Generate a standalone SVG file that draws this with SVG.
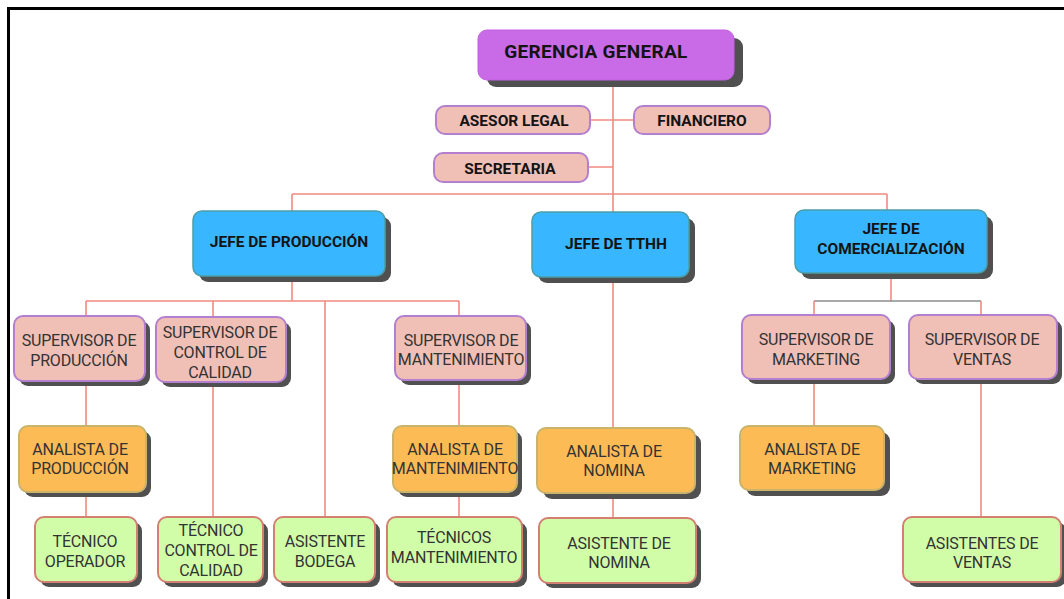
<svg xmlns="http://www.w3.org/2000/svg" width="1064" height="599" viewBox="0 0 1064 599">
<style>
.sh{fill:#505050}
.purple{fill:#c96ae6;stroke:#c060e0;stroke-width:1}
.blue{fill:#38b6ff;stroke:#4b9ea6;stroke-width:1.5}
.pink{fill:#f0bfb6;stroke:#b47fcf;stroke-width:2}
.orange{fill:#fdbb55;stroke:#c9b46c;stroke-width:2}
.green{fill:#d1fda9;stroke:#d37f72;stroke-width:2}
.b{font-family:Roboto,"Liberation Sans",sans-serif;font-weight:bold;fill:#141414;text-anchor:middle}
.r{font-family:Roboto,"Liberation Sans",sans-serif;font-size:16px;letter-spacing:-0.2px;fill:#333;text-anchor:middle}
.ln{stroke:#f08a80;stroke-width:1.6;fill:none}
.gr{stroke:#8c8c8c;stroke-width:1.6;fill:none}
</style>
<rect width="1064" height="599" fill="#fff"/>
<path d="M8.5 599 V8.5 H1064" stroke="#000" stroke-width="3" fill="none"/>
<g id="connectors">
<path class="ln" d="M613 80 V212 M590 120 H634 M588 167 H613 M292 194 H887 M292 194 V211 M887 194 V210"/>
<path class="ln" d="M292 276 V301 M86 301 H459 M86 301 V316 M213 301 V317 M325 301 V517 M459 301 V316"/>
<path class="ln" d="M86 380 V426 M86 492 V517 M213 382 V517 M459 380 V426 M459 492 V517"/>
<path class="ln" d="M613 277 V428 M613 493 V518"/>
<path class="ln" d="M891 273 V301"/>
<path class="gr" d="M814 301 H981"/>
<path class="ln" d="M814 301 V315 M981 301 V315 M814 379 V426 M981 379 V517"/>
</g>
<g id="gerencia">
<rect class="sh" x="487" y="38" width="256" height="49" rx="9"/>
<rect class="purple" x="478" y="30" width="256" height="50" rx="9"/>
<text class="b" x="596" y="58" font-size="19" letter-spacing="0.3">GERENCIA GENERAL</text>
</g>
<g id="asesor">
<rect class="pink" x="436" y="106" width="154" height="28" rx="9"/>
<text class="b" x="514" y="126" font-size="15.5">ASESOR LEGAL</text>
</g>
<g id="financiero">
<rect class="pink" x="634" y="106" width="136" height="28" rx="9"/>
<text class="b" x="702" y="126" font-size="15.5">FINANCIERO</text>
</g>
<g id="secretaria">
<rect class="pink" x="434" y="153" width="154" height="29" rx="9"/>
<text class="b" x="510" y="174" font-size="15.5">SECRETARIA</text>
</g>
<g id="jefe-produccion">
<rect class="sh" x="199" y="217" width="192" height="65" rx="9"/>
<rect class="blue" x="193" y="211" width="192" height="65" rx="9"/>
<text class="b" x="289" y="247" font-size="15.5">JEFE DE PRODUCCIÓN</text>
</g>
<g id="jefe-tthh">
<rect class="sh" x="538" y="218" width="157" height="65" rx="9"/>
<rect class="blue" x="532" y="212" width="157" height="65" rx="9"/>
<text class="b" x="616" y="249" font-size="15.5">JEFE DE TTHH</text>
</g>
<g id="jefe-comercializacion">
<rect class="sh" x="801" y="216" width="192" height="63" rx="9"/>
<rect class="blue" x="795" y="210" width="192" height="63" rx="9"/>
<text class="b" x="891" y="234" font-size="15.5">JEFE DE</text>
<text class="b" x="891" y="254" font-size="15.5">COMERCIALIZACIÓN</text>
</g>
<g id="sup-produccion">
<rect class="sh" x="19" y="321" width="131" height="65" rx="9"/>
<rect class="pink" x="14" y="316" width="131" height="65" rx="9"/>
<text class="r" x="79" y="346">SUPERVISOR DE</text>
<text class="r" x="79" y="366">PRODUCCIÓN</text>
</g>
<g id="sup-calidad">
<rect class="sh" x="161" y="322" width="130" height="65" rx="9"/>
<rect class="pink" x="156" y="317" width="130" height="65" rx="9"/>
<text class="r" x="220" y="338">SUPERVISOR DE</text>
<text class="r" x="220" y="358">CONTROL DE</text>
<text class="r" x="220" y="378">CALIDAD</text>
</g>
<g id="sup-mantenimiento">
<rect class="sh" x="400" y="321" width="131" height="64" rx="9"/>
<rect class="pink" x="395" y="316" width="131" height="64" rx="9"/>
<text class="r" x="461" y="346">SUPERVISOR DE</text>
<text class="r" x="461" y="365">MANTENIMIENTO</text>
</g>
<g id="sup-marketing">
<rect class="sh" x="747" y="320" width="148" height="64" rx="9"/>
<rect class="pink" x="742" y="315" width="148" height="64" rx="9"/>
<text class="r" x="816" y="345">SUPERVISOR DE</text>
<text class="r" x="816" y="365">MARKETING</text>
</g>
<g id="sup-ventas">
<rect class="sh" x="914" y="320" width="148" height="64" rx="9"/>
<rect class="pink" x="909" y="315" width="148" height="64" rx="9"/>
<text class="r" x="982" y="345">SUPERVISOR DE</text>
<text class="r" x="982" y="365">VENTAS</text>
</g>
<g id="analista-produccion">
<rect class="sh" x="24" y="431" width="127" height="66" rx="9"/>
<rect class="orange" x="19" y="426" width="127" height="66" rx="9"/>
<text class="r" x="80" y="455">ANALISTA DE</text>
<text class="r" x="80" y="474">PRODUCCIÓN</text>
</g>
<g id="analista-mantenimiento">
<rect class="sh" x="398" y="431" width="124" height="66" rx="9"/>
<rect class="orange" x="393" y="426" width="124" height="66" rx="9"/>
<text class="r" x="455" y="455">ANALISTA DE</text>
<text class="r" x="455" y="474">MANTENIMIENTO</text>
</g>
<g id="analista-nomina">
<rect class="sh" x="543" y="434" width="158" height="65" rx="9"/>
<rect class="orange" x="537" y="428" width="158" height="65" rx="9"/>
<text class="r" x="614" y="457">ANALISTA DE</text>
<text class="r" x="614" y="476">NOMINA</text>
</g>
<g id="analista-marketing">
<rect class="sh" x="746" y="432" width="144" height="64" rx="9"/>
<rect class="orange" x="740" y="426" width="144" height="64" rx="9"/>
<text class="r" x="812" y="455">ANALISTA DE</text>
<text class="r" x="812" y="474">MARKETING</text>
</g>
<g id="tecnico-operador">
<rect class="sh" x="40" y="522" width="102" height="65" rx="9"/>
<rect class="green" x="35" y="517" width="102" height="65" rx="9"/>
<text class="r" x="85" y="547">TÉCNICO</text>
<text class="r" x="85" y="567">OPERADOR</text>
</g>
<g id="tecnico-calidad">
<rect class="sh" x="163" y="522" width="105" height="65" rx="9"/>
<rect class="green" x="158" y="517" width="105" height="65" rx="9"/>
<text class="r" x="211" y="536">TÉCNICO</text>
<text class="r" x="211" y="556">CONTROL DE</text>
<text class="r" x="211" y="576">CALIDAD</text>
</g>
<g id="asistente-bodega">
<rect class="sh" x="279" y="522" width="101" height="65" rx="9"/>
<rect class="green" x="274" y="517" width="101" height="65" rx="9"/>
<text class="r" x="325" y="547">ASISTENTE</text>
<text class="r" x="325" y="567">BODEGA</text>
</g>
<g id="tecnicos-mantenimiento">
<rect class="sh" x="392" y="522" width="135" height="65" rx="9"/>
<rect class="green" x="387" y="517" width="135" height="65" rx="9"/>
<text class="r" x="454" y="543">TÉCNICOS</text>
<text class="r" x="454" y="563">MANTENIMIENTO</text>
</g>
<g id="asistente-nomina">
<rect class="sh" x="544" y="523" width="157" height="65" rx="9"/>
<rect class="green" x="539" y="518" width="157" height="65" rx="9"/>
<text class="r" x="619" y="549">ASISTENTE DE</text>
<text class="r" x="619" y="568">NOMINA</text>
</g>
<g id="asistentes-ventas">
<rect class="sh" x="908" y="522" width="158" height="65" rx="9"/>
<rect class="green" x="903" y="517" width="158" height="65" rx="9"/>
<text class="r" x="982" y="549">ASISTENTES DE</text>
<text class="r" x="982" y="568">VENTAS</text>
</g>
</svg>
